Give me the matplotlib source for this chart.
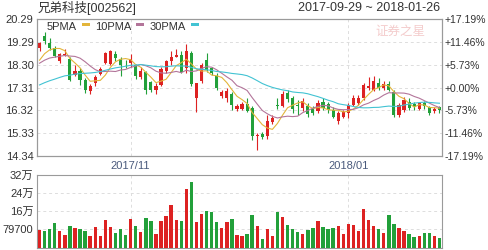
import matplotlib
matplotlib.use('Agg')
import matplotlib.pyplot as plt
from matplotlib.patches import Rectangle
import numpy as np
import pandas as pd

plt.rcParams['font.family'] = ['Liberation Sans', 'Noto Sans CJK SC', 'DejaVu Sans']

title = '兄弟科技[002562]'
date_span = '2017-09-29 ~ 2018-01-26'
holidays = ['2017-10-02', '2017-10-03', '2017-10-04', '2017-10-05', '2017-10-06', '2018-01-01']

# closes before the visible window (only used to seed the moving averages)
pre_close = [16.4, 16.5, 16.6, 16.5, 16.7, 16.8, 16.7, 16.9, 16.8, 17.0,
             17.1, 17.0, 17.1, 17.2, 17.1, 17.3, 17.2, 17.3, 17.5, 17.4,
             18.0, 18.1, 18.3, 18.4, 18.4, 17.9, 18.2, 18.4, 18.76]

opens = [19.03, 19.53, 19.24, 19.05, 18.45, 18.72, 18.56, 17.84, 18.04, 17.65,
         17.17, 17.53, 17.91, 18.38, 18.33, 18.76, 18.56, 18.30, 18.38, 18.30,
         17.77, 17.98, 17.55, 17.22, 17.43, 18.05, 18.45, 18.66, 18.74, 18.16,
         18.80, 16.85, 17.58, 18.52, 18.15, 17.80, 16.93, 16.85, 17.03, 16.40,
         16.40, 16.58, 16.42, 15.20, 15.30, 15.20, 15.80, 16.55, 16.50, 17.07,
         16.85, 16.55, 16.42, 16.53, 16.40, 16.28, 16.70, 16.60, 16.35, 15.85,
         16.05, 16.20, 16.55, 16.63, 16.85, 17.30, 17.22, 17.50, 17.30, 17.45,
         17.14, 16.10, 16.35, 16.70, 16.60, 16.40, 16.63, 16.48, 16.28, 16.45]
closes = [19.24, 19.32, 19.03, 18.70, 18.76, 18.75, 17.65, 18.04, 17.65, 17.20,
          17.39, 17.75, 18.13, 18.80, 18.88, 18.60, 18.30, 18.28, 18.55, 17.80,
          18.05, 17.20, 17.22, 17.36, 18.13, 18.45, 18.65, 18.73, 18.00, 18.88,
          17.45, 17.50, 18.30, 18.08, 17.94, 17.30, 17.14, 17.17, 16.56, 16.50,
          16.58, 16.30, 15.20, 15.25, 15.18, 15.85, 16.00, 16.50, 17.03, 16.80,
          16.40, 16.50, 16.75, 16.15, 16.20, 16.63, 16.42, 16.35, 16.05, 16.20,
          16.25, 16.55, 16.85, 16.88, 17.43, 17.38, 17.58, 17.30, 17.45, 17.22,
          16.13, 16.56, 16.78, 16.42, 16.45, 16.63, 16.50, 16.22, 16.39, 16.35]
highs = [19.30, 19.72, 19.46, 19.10, 18.80, 18.98, 18.62, 18.30, 18.16, 17.72,
         17.46, 17.87, 18.20, 18.85, 18.95, 18.88, 18.62, 18.50, 18.75, 18.35,
         18.20, 18.05, 17.60, 17.50, 18.22, 18.52, 18.88, 18.98, 18.88, 19.20,
         18.88, 17.52, 18.37, 18.80, 18.22, 17.94, 17.22, 17.29, 17.10, 16.60,
         16.70, 16.85, 16.53, 15.35, 15.40, 16.10, 16.10, 16.85, 17.17, 17.20,
         16.93, 16.78, 16.85, 16.63, 16.53, 16.78, 16.85, 16.70, 16.45, 16.30,
         16.35, 16.65, 17.00, 17.00, 17.50, 17.75, 17.80, 17.72, 17.58, 17.58,
         17.22, 16.63, 16.92, 16.85, 16.70, 16.70, 16.74, 16.53, 16.45, 16.53]
lows = [18.88, 19.20, 18.95, 18.65, 18.40, 18.68, 17.58, 17.80, 17.43, 17.07,
        17.03, 17.36, 17.85, 18.35, 18.30, 18.45, 17.80, 18.15, 18.20, 17.70,
        17.70, 17.05, 17.10, 17.03, 17.36, 17.95, 18.30, 18.62, 17.94, 17.94,
        17.36, 16.27, 17.50, 18.00, 17.87, 17.22, 16.85, 16.70, 16.35, 16.30,
        16.35, 16.25, 15.04, 14.60, 15.10, 15.10, 15.75, 16.40, 16.45, 16.70,
        16.20, 16.12, 16.30, 16.05, 16.10, 16.20, 16.35, 16.20, 15.98, 15.72,
        15.98, 15.98, 16.50, 16.55, 16.78, 17.20, 17.15, 17.20, 17.22, 17.15,
        16.05, 16.05, 16.27, 16.35, 16.35, 16.35, 16.40, 16.10, 16.20, 16.20]
# volume in units of 10k shares
volumes = [7.7, 7.1, 8.0, 10.6, 7.1, 5.5, 9.3, 8.4, 7.9, 7.1,
           4.9, 8.9, 4.9, 11.9, 8.9, 6.25, 7.9, 5.5, 12.4, 9.3,
           6.7, 12.8, 11.5, 5.8, 11.5, 13.7, 18.6, 11.9, 11.5, 25.6,
           28.8, 11.2, 14.6, 15.9, 15.4, 11.2, 8.4, 11.2, 12.5, 5.5,
           5.2, 5.9, 14.3, 9.3, 3.8, 8.1, 4.9, 15.4, 13.3, 9.9,
           8.1, 6.7, 5.9, 7.5, 8.4, 11.6, 9.0, 8.1, 8.6, 9.5,
           5.9, 10.3, 9.9, 7.1, 16.9, 12.1, 9.6, 8.1, 6.25, 14.0,
           10.3, 8.6, 7.3, 5.8, 4.6, 5.2, 6.25, 6.25, 5.2, 4.2]

price_ticks = [20.29, 19.29, 18.30, 17.31, 16.32, 15.33, 14.34]
pct_labels = ['+17.19%', '+11.46%', '+5.73%', '+0.00%', '-5.73%', '-11.46%', '-17.19%']
vol_ticks = [79700, 159400, 239100, 318800]
vol_labels = ['79700', '16万', '24万', '32万']
ma_windows = [5, 10, 30]
ma_names = ['5PMA', '10PMA', '30PMA']

RED = '#dd2222'
GREEN = '#22a03a'
ma_colors = ['#e3b53a', '#b3759a', '#42c3d3']
GRID = '#dddddd'
FRAME = '#9a9a9a'
TXT = '#333333'
FS = 8

dates = pd.bdate_range('2017-09-29', '2018-01-26')
dates = dates[~dates.isin(pd.to_datetime(holidays))]
n = len(dates)
x = np.arange(n)
o = np.array(opens); c = np.array(closes)
h = np.array(highs); l = np.array(lows)
up = c >= o
colors = np.where(up, RED, GREEN)

all_close = pd.Series(pre_close + closes)
mas = [all_close.rolling(w).mean().to_numpy()[-n:] for w in ma_windows]

month_idx = [i for i in range(1, n) if dates[i].month != dates[i - 1].month and dates[i].month in (11, 1)]
month_lbl = [dates[i].strftime('%Y/%m') for i in month_idx]

fig = plt.figure(figsize=(4.88, 2.5), dpi=100)
ax = fig.add_axes([37 / 488, 1 - 156 / 250, 405 / 488, 137 / 250])
axv = fig.add_axes([37 / 488, 1 - 247.5 / 250, 405 / 488, 73 / 250])

# candles
ax.vlines(x, l, h, colors=colors, lw=0.8, zorder=3)
body = np.maximum(np.abs(c - o), 0.025)
ax.bar(x, body, bottom=np.minimum(o, c), width=0.62, color=colors, lw=0, zorder=4)
for ma, col in zip(mas, ma_colors):
    ax.plot(x, ma, color=col, lw=0.8, zorder=5)

ax.set_xlim(-0.5, n - 0.5)
ax.set_ylim(price_ticks[-1], price_ticks[0])
ax.set_yticks(price_ticks)
ax.set_yticklabels(['%.2f' % t for t in price_ticks])
ax.set_xticks(month_idx)
ax.set_xticklabels(month_lbl)
ax.tick_params(axis='y', length=0, pad=2.5, labelsize=FS, labelcolor=TXT)
ax.tick_params(axis='x', length=0, pad=3.5, labelsize=FS, labelcolor='#4a5a7c')
ax.grid(True, ls=(0, (3, 3)), color=GRID, lw=0.7)
ax.set_axisbelow(True)

axr = ax.twinx()
axr.set_ylim(ax.get_ylim())
axr.set_yticks(price_ticks)
axr.set_yticklabels(pct_labels)
axr.tick_params(axis='y', length=0, pad=2, labelsize=7.5, labelcolor=TXT)

# volume
vol = np.array(volumes) * 10000
axv.bar(x, vol, width=0.66, color=colors, lw=0, zorder=3)
axv.set_xlim(-0.5, n - 0.5)
axv.set_ylim(0, vol_ticks[-1])
axv.set_yticks(vol_ticks)
axv.set_yticklabels(vol_labels)
axv.set_xticks(month_idx)
axv.set_xticklabels([])
axv.tick_params(axis='both', length=0, pad=2.5, labelsize=FS, labelcolor=TXT)
axv.grid(True, ls=(0, (3, 3)), color=GRID, lw=0.7)
axv.set_axisbelow(True)

for a in (ax, axr, axv):
    for s in a.spines.values():
        s.set_color(FRAME)
        s.set_linewidth(0.8)

# header, watermark and legend
fig.text(38 / 488, 1 - 8 / 250, title, fontsize=9, color=TXT, va='center', ha='left')
fig.text(440 / 488, 1 - 8 / 250, date_span, fontsize=9, color=TXT, va='center', ha='right')
fig.text(400 / 488, 1 - 31 / 250, '证券之星', fontsize=9, color='#f4cccc', va='center', ha='center',
         family=['Noto Sans CJK SC'], style='italic', zorder=0)

lx = 47
for name, col in zip(ma_names, ma_colors):
    t = fig.text(lx / 488, 1 - 27 / 250, name, fontsize=FS, color=TXT, va='center', ha='left')
    fig.canvas.draw()
    w = t.get_window_extent().width
    sx = lx + w + 5
    fig.patches.append(Rectangle((sx / 488, 1 - 26 / 250), 8 / 488, 3 / 250,
                                 transform=fig.transFigure, color=col, lw=0))
    lx = sx + 13

fig.savefig('out.png', dpi=100)
